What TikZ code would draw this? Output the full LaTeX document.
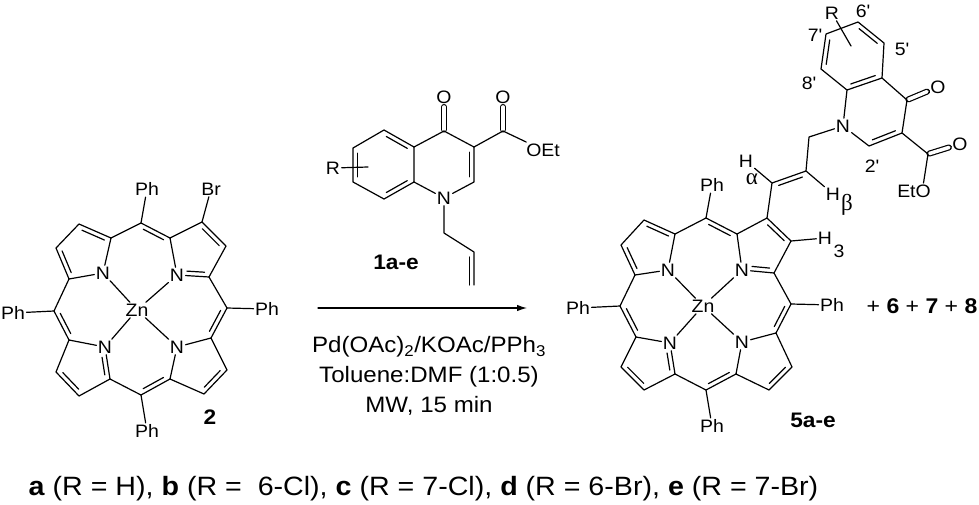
\documentclass[tikz,border=0pt]{standalone}
\usepackage{fontspec}
\setmainfont[FakeStretch=1.08]{Liberation Sans}
\newfontfamily\greekfont{Liberation Serif}
\usetikzlibrary{calc,arrows.meta}

\newcommand{\primemark}{\textquotesingle}
\newcommand{\dbl}[3][.15]{\draw ($(#2)!#1!(#3)!4.5pt!90:(#3)$) -- ($(#3)!.15!(#2)!4.5pt!-90:(#2)$);}
\newcommand{\dblr}[3][.15]{\draw ($(#2)!#1!(#3)!4.5pt!-90:(#3)$) -- ($(#3)!.15!(#2)!4.5pt!90:(#2)$);}

\tikzset{
	atom/.style={inner sep=1pt,font=\fontsize{18}{20}\selectfont},
	greek/.style={inner sep=0pt,font=\fontsize{23}{23}\selectfont\greekfont},
	cmpd/.style={inner sep=1pt,font=\fontsize{21}{22}\selectfont\bfseries},
	carbonyl/.style={double,double distance=3.6pt,shorten <=1.5pt,shorten >=2pt},
}

\begin{document}
\begin{tikzpicture}[x=1pt,y=-1pt,line width=1.2pt,line join=round,cap=round,>={Latex[length=10pt,width=6.5pt]}]
	\useasboundingbox (0,0) rectangle (979,504);

	\node [atom] (lzn) at (137,310) {Zn};
	\node [atom] (ln1) at (103,273) {N};
	\node [atom] (ln2) at (177,275) {N};
	\node [atom] (ln3) at (105,347) {N};
	\node [atom] (ln4) at (177,347) {N};
	\node [atom] (lpht) at (147,189) {Ph};
	\node [atom] (lbr) at (211,189) {Br};
	\node [atom] (lphl) at (13,313) {Ph};
	\node [atom] (lphr) at (267,309) {Ph};
	\node [atom] (lphb) at (147,431) {Ph};
	\node [cmpd] (lbl2) at (210,417) {2};

	\coordinate (lmt) at (141,223);
	\coordinate (la1) at (111,238);
	\coordinate (lb1) at (79,224);
	\coordinate (lb2) at (56,248);
	\coordinate (la2) at (69,279);
	\coordinate (la3) at (170,238);
	\coordinate (lb3) at (202,222);
	\coordinate (lb4) at (226,246);
	\coordinate (la4) at (209,277);
	\coordinate (lml) at (54,311);
	\coordinate (lmr) at (227,308);
	\coordinate (la5) at (69,340);
	\coordinate (lb5) at (56,372);
	\coordinate (lb6) at (79,396);
	\coordinate (la6) at (110,379);
	\coordinate (lmb) at (141,395);
	\coordinate (la7) at (170,379);
	\coordinate (lb7) at (204,394);
	\coordinate (lb8) at (227,370);
	\coordinate (la8) at (211,338);

	\draw (ln1) -- (la1) -- (lb1) -- (lb2) -- (la2) -- (ln1);
	\draw (ln2) -- (la3) -- (lb3) -- (lb4) -- (la4) -- (ln2);
	\draw (ln3) -- (la5) -- (lb5) -- (lb6) -- (la6) -- (ln3);
	\draw (ln4) -- (la7) -- (lb7) -- (lb8) -- (la8) -- (ln4);
	\draw (la1) -- (lmt) -- (la3);
	\draw (la2) -- (lml) -- (la5);
	\draw (la4) -- (lmr) -- (la8);
	\draw (la6) -- (lmb) -- (la7);
	\draw (lzn) -- (ln1);
	\draw (lzn) -- (ln2);
	\draw (lzn) -- (ln3);
	\draw (lzn) -- (ln4);
	\draw (lmt) -- (lpht);
	\draw (lb3) -- (lbr);
	\draw (lml) -- (lphl);
	\draw (lmr) -- (lphr);
	\draw (lmb) -- (lphb);

	\dbl{la1}{lb1}
	\dbl{lb2}{la2}
	\dbl{la3}{lmt}
	\dbl{lb4}{lb3}
	\dbl[.3]{ln2}{la4}
	\dbl{lml}{la5}
	\dbl{la8}{lmr}
	\dblr[.3]{ln3}{la6}
	\dbl{lb5}{lb6}
	\dbl{lmb}{la7}
	\dbl{lb7}{lb8}

	\node [atom] (qn) at (444,198) {N};
	\node [atom] (qo1) at (444,97) {O};
	\node [atom] (qo2) at (503,97) {O};
	\node [atom] (qoet) at (543,150) {OEt};
	\node [atom] (qr) at (333,168) {R};
	\node [cmpd] (lbl1) at (396,262) {1a-e};

	\coordinate (qa) at (384,130);
	\coordinate (qb) at (353,148);
	\coordinate (qc) at (353,182);
	\coordinate (qd) at (384,199);
	\coordinate (qe) at (414,182);
	\coordinate (qf) at (414,147);
	\coordinate (qc4) at (444,131);
	\coordinate (qc3) at (474,147);
	\coordinate (qc2) at (474,182);
	\coordinate (qce) at (503,131);
	\coordinate (qr1) at (368,167);
	\coordinate (qch) at (444,233);
	\coordinate (qv1) at (474,252);
	\coordinate (qv2) at (474,285);

	\draw [carbonyl] (qc4) -- (qo1);
	\draw [carbonyl] (qce) -- (qo2);
	\draw (qa) -- (qb) -- (qc) -- (qd) -- (qe) -- (qf) -- cycle;
	\draw (qe) -- (qn) -- (qc2) -- (qc3) -- (qc4) -- (qf);
	\draw (qc3) -- (qce) -- (qoet);
	\draw (qr) -- (qr1);
	\draw (qn) -- (qch) -- (qv1) -- (qv2);
	\dbl{qf}{qa}
	\dbl{qb}{qc}
	\dbl{qd}{qe}
	\dbl{qc2}{qc3}
	\dbl[0]{qv2}{qv1}

	\node [atom] (rzn) at (703,306) {Zn};
	\node [atom] (rn1) at (668,270) {N};
	\node [atom] (rn2) at (742,270) {N};
	\node [atom] (rn3) at (670,343) {N};
	\node [atom] (rn4) at (742,342) {N};
	\node [atom] (rpht) at (712,185) {Ph};
	\node [atom] (rphl) at (578,308) {Ph};
	\node [atom] (rphr) at (832,305) {Ph};
	\node [atom] (rphb) at (712,426) {Ph};
	\node [atom] (rh3) at (825,238) {H};
	\node [atom] (rh3n) at (839,251) {3};
	\node [cmpd] (lbl5) at (813,420) {5a-e};

	\coordinate (rmt) at (706,218);
	\coordinate (ra1) at (675,234);
	\coordinate (rb1) at (644,220);
	\coordinate (rb2) at (621,245);
	\coordinate (ra2) at (635,275);
	\coordinate (ra3) at (737,234);
	\coordinate (rb3) at (767,218);
	\coordinate (rb4) at (791,241);
	\coordinate (ra4) at (774,273);
	\coordinate (rml) at (620,306);
	\coordinate (rmr) at (791,304);
	\coordinate (ra5) at (636,337);
	\coordinate (rb5) at (621,367);
	\coordinate (rb6) at (644,390);
	\coordinate (ra6) at (675,374);
	\coordinate (rmb) at (706,390);
	\coordinate (ra7) at (736,374);
	\coordinate (rb7) at (769,390);
	\coordinate (rb8) at (792,367);
	\coordinate (ra8) at (776,333);

	\draw (rn1) -- (ra1) -- (rb1) -- (rb2) -- (ra2) -- (rn1);
	\draw (rn2) -- (ra3) -- (rb3) -- (rb4) -- (ra4) -- (rn2);
	\draw (rn3) -- (ra5) -- (rb5) -- (rb6) -- (ra6) -- (rn3);
	\draw (rn4) -- (ra7) -- (rb7) -- (rb8) -- (ra8) -- (rn4);
	\draw (ra1) -- (rmt) -- (ra3);
	\draw (ra2) -- (rml) -- (ra5);
	\draw (ra4) -- (rmr) -- (ra8);
	\draw (ra6) -- (rmb) -- (ra7);
	\draw (rzn) -- (rn1);
	\draw (rzn) -- (rn2);
	\draw (rzn) -- (rn3);
	\draw (rzn) -- (rn4);
	\draw (rmt) -- (rpht);
	\draw (rml) -- (rphl);
	\draw (rmr) -- (rphr);
	\draw (rmb) -- (rphb);
	\draw (rb4) -- (rh3);

	\dbl{ra1}{rb1}
	\dbl{rb2}{ra2}
	\dbl{ra3}{rmt}
	\dbl{rb4}{rb3}
	\dbl[.3]{rn2}{ra4}
	\dbl{rml}{ra5}
	\dbl{ra8}{rmr}
	\dblr[.3]{rn3}{ra6}
	\dbl{rb5}{rb6}
	\dbl{rmb}{ra7}
	\dbl{rb7}{rb8}

	\node [atom] (pn) at (843,126) {N};
	\node [atom] (po1) at (938,87) {O};
	\node [atom] (po2) at (960,144) {O};
	\node [atom] (peto) at (914,191) {EtO};
	\node [atom] (pr) at (832,13) {R};
	\node [atom] (pha) at (746,161) {H};
	\node [greek] (palpha) at (752,179) {α};
	\node [atom] (phb) at (833,194) {H};
	\node [greek] (pbeta) at (847,205) {β};
	\node [atom] (p6) at (863,11) {6\primemark};
	\node [atom] (p7) at (815,35) {7\primemark};
	\node [atom] (p5) at (902,49) {5\primemark};
	\node [atom] (p8) at (809,83) {8\primemark};
	\node [atom] (p2) at (872,166) {2\primemark};

	\coordinate (pva) at (772,183);
	\coordinate (pvb) at (806,171);
	\coordinate (pch) at (809,137);
	\coordinate (pc8a) at (847,90);
	\coordinate (pc4a) at (882,78);
	\coordinate (pc5) at (884,43);
	\coordinate (pc6) at (858,22);
	\coordinate (pc7) at (826,34);
	\coordinate (pc8) at (821,69);
	\coordinate (pc4) at (907,100);
	\coordinate (pc3) at (902,133);
	\coordinate (pc2) at (869,146);
	\coordinate (pce) at (928,154);
	\coordinate (pr1) at (851,46);

	\draw [carbonyl] (pc4) -- (po1);
	\draw [carbonyl] (pce) -- (po2);
	\draw (rb3) -- (pva) -- (pvb) -- (pch) -- (pn);
	\draw (pva) -- (pha);
	\draw (pvb) -- (phb);
	\draw (pn) -- (pc8a) -- (pc4a) -- (pc5) -- (pc6) -- (pc7) -- (pc8) -- (pc8a);
	\draw (pc4a) -- (pc4) -- (pc3) -- (pc2) -- (pn);
	\draw (pc3) -- (pce) -- (peto.40);
	\draw (pr) -- (pr1);
	\dbl{pvb}{pva}
	\dbl{pc8a}{pc4a}
	\dbl{pc5}{pc6}
	\dbl{pc7}{pc8}
	\dbl{pc2}{pc3}

	\coordinate (arrs) at (318,308);
	\coordinate (arre) at (527,308);
	\draw [->] (arrs) -- (arre);
	\node [align=center,inner sep=0pt,font=\fontsize{22.3}{30}\selectfont] (cond) at (429,376) {Pd(OAc)\textsubscript{2}/KOAc/PPh\textsubscript{3}\\Toluene:DMF (1:0.5)\\MW, 15 min};

	\node [inner sep=0pt,font=\fontsize{21.3}{24}\selectfont] (extra) at (922,306) {+ \textbf{6} + \textbf{7} + \textbf{8}};
	\node [anchor=base west,inner sep=0pt,font=\fontsize{26.5}{28}\selectfont] (key) at (28,495) {\textbf{a} (R = H), \textbf{b} (R =\ \ 6-Cl), \textbf{c} (R = 7-Cl), \textbf{d} (R = 6-Br), \textbf{e} (R = 7-Br)};
\end{tikzpicture}
\end{document}
